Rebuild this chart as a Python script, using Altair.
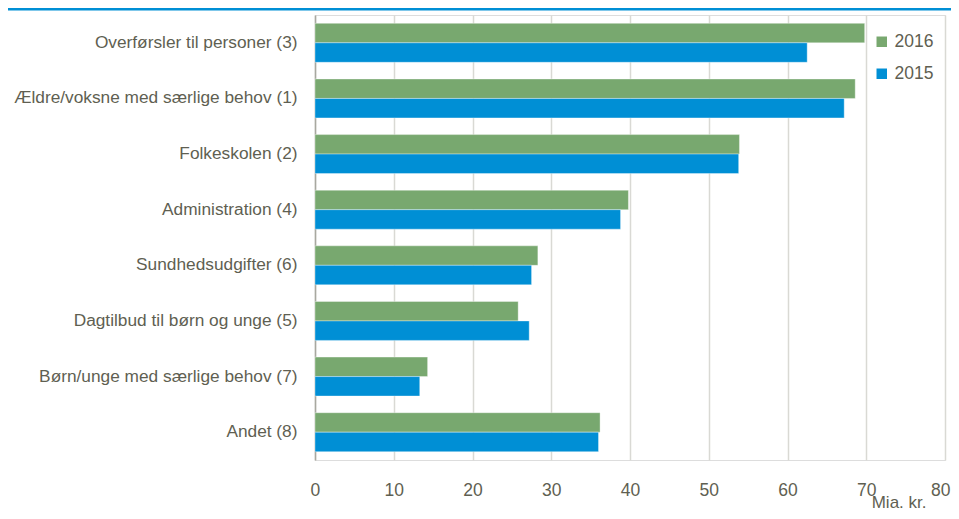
import altair as alt
import pandas as pd

categories = [
    "Overførsler til personer (3)",
    "Ældre/voksne med særlige behov (1)",
    "Folkeskolen (2)",
    "Administration (4)",
    "Sundhedsudgifter (6)",
    "Dagtilbud til børn og unge (5)",
    "Børn/unge med særlige behov (7)",
    "Andet (8)",
]
values_2016 = [69.8, 68.6, 53.9, 39.8, 28.3, 25.8, 14.3, 36.2]
values_2015 = [62.5, 67.2, 53.8, 38.8, 27.5, 27.2, 13.3, 36.0]
years = ["2016", "2015"]
colors = ["#78a86f", "#008fd5"]

rows = []
for c, v16, v15 in zip(categories, values_2016, values_2015):
    rows.append({"kategori": c, "år": "2016", "værdi": v16})
    rows.append({"kategori": c, "år": "2015", "værdi": v15})
df = pd.DataFrame(rows)

W, H = 630, 445
FONT = "Liberation Sans"
TXT = "#5f5f52"

bars = alt.Chart(df).mark_bar(stroke="white", strokeWidth=0.6, strokeOpacity=0.6).encode(
    y=alt.Y("kategori:N", sort=categories,
            scale=alt.Scale(paddingInner=0.3, paddingOuter=0.15),
            axis=alt.Axis(title=None, labelFontSize=17.3, labelColor=TXT, labelFont=FONT,
                          labelPadding=18, ticks=False, domainColor="#a8a8a0",
                          domainWidth=1.5, grid=False, labelLimit=300)),
    yOffset=alt.YOffset("år:N", sort=years),
    x=alt.X("værdi:Q", scale=alt.Scale(domain=[0, 80], nice=False),
            axis=alt.Axis(values=[0, 10, 20, 30, 40, 50, 60, 70, 80], title="Mia. kr.",
                          titleFont=FONT, titleFontSize=17, titleFontWeight="normal",
                          titleColor=TXT, titleAnchor="end", titleAlign="right",
                          titleX=611, titleY=51, titleBaseline="bottom",
                          labelFontSize=17.5, labelColor=TXT, labelFont=FONT,
                          labelPadding=21, labelFlush=True, labelFlushOffset=5,
                          ticks=False, domain=False,
                          gridColor="#d9d9d4", gridWidth=1.5)),
    color=alt.Color("år:N", sort=years,
                    scale=alt.Scale(domain=years, range=colors),
                    legend=alt.Legend(title=None, orient="none", legendX=558, legendY=18,
                                      symbolType="square", symbolSize=110,
                                      labelFontSize=17.5, labelFont=FONT, labelColor=TXT,
                                      rowPadding=13, symbolStrokeWidth=0)),
)

topline = alt.Chart(pd.DataFrame({"a": [0]})).mark_rule(color="#008fd5", strokeWidth=3).encode(
    x=alt.value(-310), x2=alt.value(W + 8), y=alt.value(-6)
)

chart = alt.layer(bars, topline).properties(
    width=W, height=H,
    autosize=alt.AutoSizeParams(type="none"),
    padding={"left": 307, "top": 7, "right": 6, "bottom": 51},
).configure_view(stroke=None).configure(font=FONT)

chart.save("out.html", embed_options={"renderer": "svg", "actions": False})
